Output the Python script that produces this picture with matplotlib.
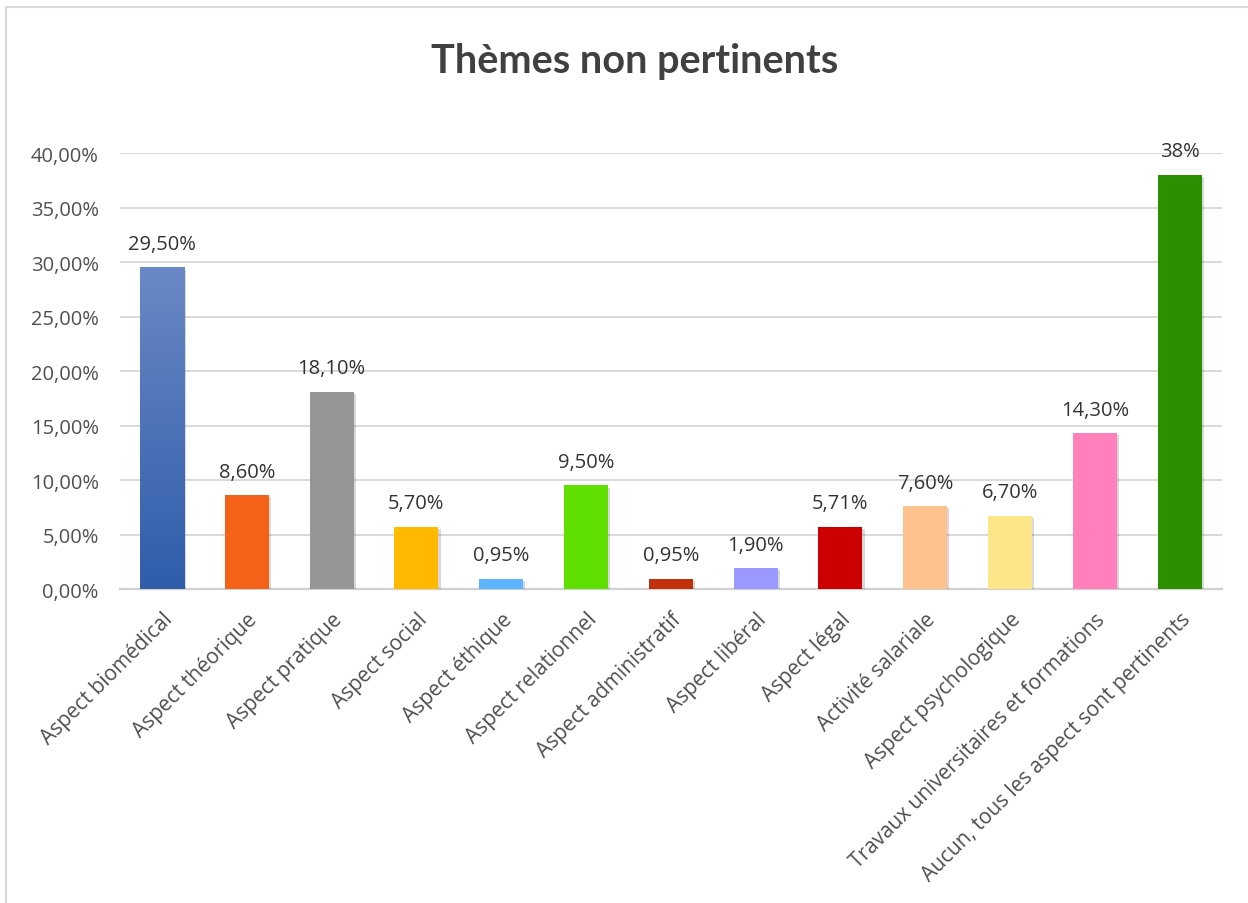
import matplotlib.pyplot as plt
import matplotlib.patheffects as pe
import numpy as np
from matplotlib.lines import Line2D
from matplotlib.colors import LinearSegmentedColormap

plt.rcParams['font.family'] = ['Open Sans', 'DejaVu Sans']

categories = ['Aspect biomédical', 'Aspect théorique', 'Aspect pratique', 'Aspect social',
              'Aspect éthique', 'Aspect relationnel', 'Aspect administratif', 'Aspect libéral',
              'Aspect légal', 'Activité salariale', 'Aspect psychologique',
              'Travaux universitaires et formations', 'Aucun, tous les aspect sont pertinents']
values = [29.50, 8.60, 18.10, 5.70, 0.95, 9.50, 0.95, 1.90, 5.71, 7.60, 6.70, 14.30, 38.0]
labels = ['29,50%', '8,60%', '18,10%', '5,70%', '0,95%', '9,50%', '0,95%', '1,90%',
          '5,71%', '7,60%', '6,70%', '14,30%', '38%']
colors = ['#4A72BC', '#F4621A', '#969696', '#FFB900', '#5DB4FF', '#5FE000', '#C0300A',
          '#9999FF', '#CC0000', '#FFC28F', '#FDE68A', '#FF80BB', '#2A9000']

fig = plt.figure(figsize=(12.48, 9.04), dpi=100)
ax = fig.add_axes([0.0958, 0.3473, 0.8834, 0.4823])

x = np.arange(len(categories))
shadow = [pe.SimplePatchShadow(offset=(1.5, -1.5), shadow_rgbFace='#000000', alpha=0.15), pe.Normal()]
bars = ax.bar(x, values, width=0.52, color=colors, zorder=3, path_effects=shadow)

# first bar gets a vertical blue gradient
b0 = bars[0]
b0.set_facecolor('none')
grad = np.linspace(1, 0, 256).reshape(-1, 1)
cmap = LinearSegmentedColormap.from_list('blue', ['#2F5DAA', '#6A88C6'])
img = ax.imshow(grad, cmap=cmap, aspect='auto', zorder=3.5,
                extent=[b0.get_x(), b0.get_x() + b0.get_width(), 0, values[0]])
img.set_clip_path(b0)

for xi, v, lab in zip(x, values, labels):
    ax.text(xi, v + 1.25, lab, ha='center', va='bottom', fontsize=14.5, color='#333333', clip_on=False)

ax.set_xlim(-0.5, len(categories) - 0.5)
ax.set_ylim(0, 40)
ax.set_yticks(np.arange(0, 41, 5))
ax.set_yticklabels([f'{t:.2f}%'.replace('.', ',') for t in np.arange(0, 41, 5)],
                   fontsize=14.5, color='#505050')
ax.set_xticks(x)
ax.set_xticklabels(categories, rotation=45, ha='right', rotation_mode='anchor',
                   fontsize=15, color='#505050')
ax.tick_params(axis='both', length=0)
ax.tick_params(axis='y', pad=15)
ax.tick_params(axis='x', pad=14)
ax.yaxis.grid(True, color='#D9D9D9', linewidth=1.4, zorder=0)
ax.set_axisbelow(True)
for s in ['top', 'right', 'left']:
    ax.spines[s].set_visible(False)
ax.spines['bottom'].set_color('#D0D0D0')
ax.spines['bottom'].set_linewidth(1.6)

fig.text(0.5084, 0.9325, 'Thèmes non pertinents', ha='center', va='center',
         fontsize=28.5, fontweight='bold', color='#404040', family=['Lato', 'DejaVu Sans'])

# chart frame edges
fig.add_artist(Line2D([6 / 1248, 1], [1 - 8 / 904, 1 - 8 / 904], color='#D9D9D9', linewidth=1.5))
fig.add_artist(Line2D([6 / 1248, 6 / 1248], [0, 1 - 8 / 904], color='#D9D9D9', linewidth=1.5))

fig.savefig('out.png', dpi=100)
